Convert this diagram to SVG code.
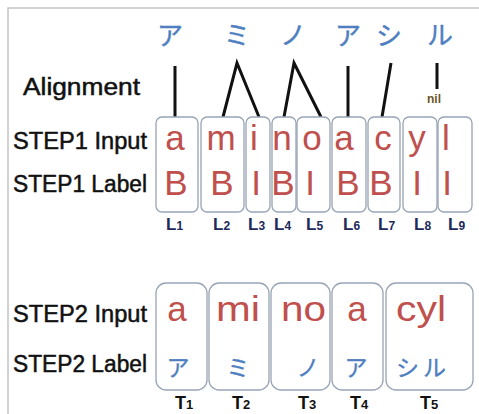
<svg xmlns="http://www.w3.org/2000/svg" width="479" height="414" viewBox="0 0 479 414">
<style>
.lbl{font-family:"Liberation Sans",Arial,sans-serif;font-size:23px;fill:#111;stroke:#111;stroke-width:0.5}
.red{font-family:"Liberation Sans",Arial,sans-serif;font-size:35px;fill:#c0504d;text-anchor:middle}
.red2{font-family:"Liberation Sans",Arial,sans-serif;font-size:35px;fill:#c0504d}
.kana{font-family:"Noto Sans CJK JP","Noto Sans CJK SC",sans-serif;font-size:26px;fill:#4f7fc0;stroke:#4f7fc0;stroke-width:0.4;text-anchor:middle}
.kana2{font-family:"Noto Sans CJK JP","Noto Sans CJK SC",sans-serif;font-size:23px;fill:#4f7fc0;stroke:#4f7fc0;stroke-width:0.3;text-anchor:middle}
.box1{fill:#fff;stroke:#98a4b6;stroke-width:1.3}
.box2{fill:#fff;stroke:#98a4b6;stroke-width:1.3}
.L{font-family:"Liberation Sans",Arial,sans-serif;font-size:17px;font-weight:bold;fill:#22285a}
.T{font-family:"Liberation Sans",Arial,sans-serif;font-size:18px;font-weight:bold;fill:#111}
.sub{font-size:12px}
.subT{font-size:13px}
.al{stroke:#111;stroke-width:3;fill:none;stroke-linejoin:miter}
</style>
<rect x="0" y="0" width="479" height="414" fill="#fff"/>
<path d="M8,414 V8 H479" fill="none" stroke="#c4c4c4" stroke-width="1.5"/>

<g id="row-labels">
<text class="lbl" x="23" y="95" textLength="117" lengthAdjust="spacingAndGlyphs">Alignment</text>
<text class="lbl" x="13" y="149" textLength="134" lengthAdjust="spacingAndGlyphs">STEP1 Input</text>
<text class="lbl" x="13" y="192" textLength="134" lengthAdjust="spacingAndGlyphs">STEP1 Label</text>
<text class="lbl" x="13" y="322" textLength="134" lengthAdjust="spacingAndGlyphs">STEP2 Input</text>
<text class="lbl" x="13" y="372" textLength="134" lengthAdjust="spacingAndGlyphs">STEP2 Label</text>
</g>

<g id="katakana-top">
<text class="kana" x="170" y="45">ア</text>
<text class="kana" x="237" y="45">ミ</text>
<text class="kana" x="293" y="45">ノ</text>
<text class="kana" x="348" y="45">ア</text>
<text class="kana" x="389" y="45">シ</text>
<text class="kana" x="440" y="45">ル</text>
</g>

<g id="connectors">
<path class="al" d="M175,66 V117"/>
<path class="al" d="M223,117 L237,63 L259,117"/>
<path class="al" d="M284,117 L294,63 L321,117"/>
<path class="al" d="M348,66 V117"/>
<path class="al" d="M391,63 L382,117"/>
<path class="al" d="M437,63 V89"/>
<text x="434" y="103" text-anchor="middle" font-family="Liberation Sans,Arial,sans-serif" font-size="12" font-weight="bold" fill="#6b5626">nil</text>
</g>

<g id="step1">
<g id="L1"><rect class="box1" x="156" y="117" width="42" height="95" rx="6"/><text class="red" x="175" y="150">a</text><text class="red" x="176" y="195">B</text><text class="L" x="166" y="230">L<tspan class="sub">1</tspan></text></g>
<g id="L2"><rect class="box1" x="201" y="117" width="43" height="95" rx="6"/><text class="red" x="221" y="150">m</text><text class="red" x="222" y="195">B</text><text class="L" x="213" y="230">L<tspan class="sub">2</tspan></text></g>
<g id="L3"><rect class="box1" x="246" y="117" width="24" height="95" rx="6"/><text class="red" x="254" y="150">i</text><text class="red" x="256" y="195">I</text><text class="L" x="248" y="230">L<tspan class="sub">3</tspan></text></g>
<g id="L4"><rect class="box1" x="272" y="117" width="24" height="95" rx="6"/><text class="red" x="282" y="150">n</text><text class="red" x="283" y="195">B</text><text class="L" x="274" y="230">L<tspan class="sub">4</tspan></text></g>
<g id="L5"><rect class="box1" x="297" y="117" width="33" height="95" rx="6"/><text class="red" x="312" y="150">o</text><text class="red" x="310" y="195">I</text><text class="L" x="306" y="230">L<tspan class="sub">5</tspan></text></g>
<g id="L6"><rect class="box1" x="332" y="117" width="34" height="95" rx="6"/><text class="red" x="344" y="150">a</text><text class="red" x="348" y="195">B</text><text class="L" x="343" y="230">L<tspan class="sub">6</tspan></text></g>
<g id="L7"><rect class="box1" x="368" y="117" width="32" height="95" rx="6"/><text class="red" x="383" y="150">c</text><text class="red" x="381" y="195">B</text><text class="L" x="378" y="230">L<tspan class="sub">7</tspan></text></g>
<g id="L8"><rect class="box1" x="403" y="117" width="34" height="95" rx="6"/><text class="red" x="417" y="150">y</text><text class="red" x="417" y="195">I</text><text class="L" x="414" y="230">L<tspan class="sub">8</tspan></text></g>
<g id="L9"><rect class="box1" x="438" y="117" width="34" height="95" rx="6"/><text class="red" x="446" y="150">l</text><text class="red" x="447" y="195">I</text><text class="L" x="448" y="230">L<tspan class="sub">9</tspan></text></g>
</g>

<g id="step2">
<g id="T1"><rect class="box2" x="156" y="283" width="51" height="107" rx="10"/><text class="red" x="177" y="321">a</text><text class="kana2" x="178" y="376">ア</text><text class="T" x="175" y="409">T<tspan class="subT">1</tspan></text></g>
<g id="T2"><rect class="box2" x="209" y="283" width="60" height="107" rx="10"/><text class="red2" x="216" y="321" textLength="44" lengthAdjust="spacingAndGlyphs">mi</text><text class="kana2" x="238" y="376">ミ</text><text class="T" x="232" y="409">T<tspan class="subT">2</tspan></text></g>
<g id="T3"><rect class="box2" x="271" y="283" width="59" height="107" rx="10"/><text class="red2" x="281" y="321" textLength="45" lengthAdjust="spacingAndGlyphs">no</text><text class="kana2" x="308" y="376">ノ</text><text class="T" x="298" y="409">T<tspan class="subT">3</tspan></text></g>
<g id="T4"><rect class="box2" x="332" y="283" width="51" height="107" rx="10"/><text class="red" x="357" y="321">a</text><text class="kana2" x="356" y="376">ア</text><text class="T" x="350" y="409">T<tspan class="subT">4</tspan></text></g>
<g id="T5"><rect class="box2" x="386" y="283" width="87" height="107" rx="10"/><text class="red2" x="396" y="321" textLength="50" lengthAdjust="spacingAndGlyphs">cyl</text><text class="kana2" x="423" y="376" letter-spacing="4">シル</text><text class="T" x="420" y="409">T<tspan class="subT">5</tspan></text></g>
</g>
</svg>
